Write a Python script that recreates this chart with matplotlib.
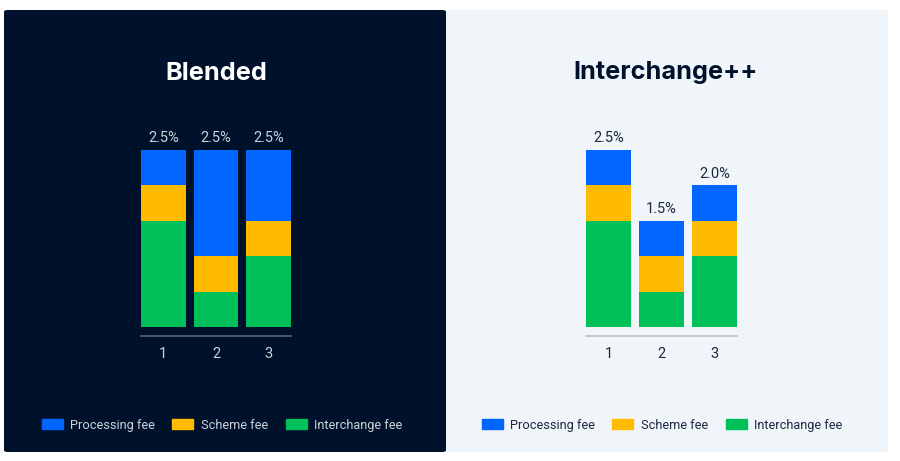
import numpy as np
import matplotlib.pyplot as plt
from matplotlib.patches import FancyBboxPatch, Patch

plt.rcParams['font.family'] = ['Roboto', 'DejaVu Sans']

categories = ['1', '2', '3']
series = ['Interchange fee', 'Scheme fee', 'Processing fee']

blended_interchange = [1.5, 0.5, 1.0]
blended_scheme = [0.5, 0.5, 0.5]
blended_processing = [0.5, 1.5, 1.0]

icpp_interchange = [1.5, 0.5, 1.0]
icpp_scheme = [0.5, 0.5, 0.5]
icpp_processing = [0.5, 0.5, 0.5]

blue = '#0066ff'
yellow = '#ffbb00'
green = '#00c05a'
navy = '#00112c'
light = '#f0f5f9'

W, H = 900, 461
fig = plt.figure(figsize=(9, 4.61), dpi=100)
fig.patch.set_facecolor('white')


def px(x0, y0, x1, y1):
    # pixel box (top-left origin) -> figure fraction rect
    return [x0 / W, 1 - y1 / H, (x1 - x0) / W, (y1 - y0) / H]


def panel(x0, x1, color):
    r = px(x0, 10, x1, 452)
    fig.patches.append(FancyBboxPatch((r[0], r[1]), r[2], r[3],
                                      boxstyle='round,pad=0,rounding_size=0.004',
                                      transform=fig.transFigure, facecolor=color,
                                      edgecolor='none', zorder=-5))


panel(4, 446, navy)
panel(446, 888, light)


def draw(axrect, inter, scheme, proc, title, title_x, fg, label_c, base_c, leg_x):
    ax = fig.add_axes(axrect)
    ax.set_facecolor('none')
    x = np.arange(len(categories))
    inter = np.array(inter)
    scheme = np.array(scheme)
    proc = np.array(proc)
    w = 0.85
    ax.bar(x, inter, w, color=green)
    ax.bar(x, scheme, w, bottom=inter, color=yellow)
    ax.bar(x, proc, w, bottom=inter + scheme, color=blue)
    total = inter + scheme + proc
    for xi, t in zip(x, total):
        ax.annotate(f'{t:.1f}%', (xi, t), xytext=(0, 3.5), textcoords='offset points',
                    ha='center', va='bottom', fontsize=10.5, color=label_c)
    ax.set_xlim(-w / 2, len(categories) - 1 + w / 2)
    ax.set_ylim(-0.127, 2.5)
    for s in ['top', 'right', 'left']:
        ax.spines[s].set_visible(False)
    ax.spines['bottom'].set_color(base_c)
    ax.spines['bottom'].set_linewidth(1.2)
    ax.set_yticks([])
    ax.set_xticks(x)
    ax.set_xticklabels(categories)
    ax.tick_params(axis='x', length=0, pad=8, labelsize=10.5, labelcolor=label_c)
    fig.text(title_x / W, 1 - 73 / H, title, ha='center', va='center',
             fontsize=18.2, fontweight='bold', color=fg, family=['Inter', 'DejaVu Sans'])
    handles = [Patch(color=blue, label=series[2]),
               Patch(color=yellow, label=series[1]),
               Patch(color=green, label=series[0])]
    fig.legend(handles=handles, loc='center', bbox_to_anchor=(leg_x / W, 1 - 425 / H),
               ncol=3, frameon=False, fontsize=9.2, handlelength=1.65,
               handleheight=0.85, handletextpad=0.6, columnspacing=1.35,
               labelcolor=label_c)
    return ax


draw(px(141, 150, 291, 336), blended_interchange, blended_scheme, blended_processing,
     'Blended', 216, 'white', '#cdd2da', '#5a6578', 222)
draw(px(586, 150, 737, 336), icpp_interchange, icpp_scheme, icpp_processing,
     'Interchange++', 666, navy, '#1c2740', '#b9c0c8', 662)

fig.savefig('out.png', dpi=100, facecolor=fig.get_facecolor())
